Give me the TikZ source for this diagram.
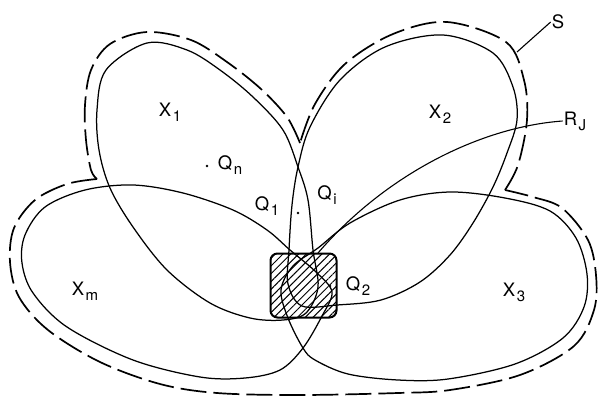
\documentclass[tikz,border=0pt]{standalone}
\usepackage{fontspec}
\setmainfont{TeX Gyre Heros}
\usetikzlibrary{patterns.meta}
\newcommand\lsub[1]{\kern1.5pt\raisebox{-5pt}{\fontsize{15}{15}\selectfont #1}}

\begin{document}
\begin{tikzpicture}[
    x=1pt, y=-1pt,
    petal/.style={
        line width=1.25pt,
        line join=round
    },
    outline/.style={
        line width=1.7pt,
        dash pattern=on 26pt off 7pt
    },
    region/.style={
        draw,
        line width=2pt,
        rounded corners=7pt,
        minimum width=66pt,
        minimum height=64pt,
        inner sep=0pt,
        pattern={Lines[angle=45, distance=5.5pt, line width=1pt]}
    },
    lbl/.style={
        font=\fontsize{18.5}{18.5}\selectfont,
        inner sep=1pt
    },
    leader/.style={
        line width=1.1pt
    },
    dot/.style={
        circle,
        fill,
        inner sep=0pt,
        minimum size=2.8pt
    }
]
\useasboundingbox (0,0) rectangle (598,397);

% petals
\draw[petal] plot[smooth cycle, tension=0.55] coordinates {
    (147,43) (187,50) (220,70) (253,97) (283,130) (298,167) (308,200)
    (313,250) (318,287) (306,313) (283,320) (250,318) (210,303)
    (167,270) (133,227) (110,188) (99,150) (97,110) (106,70)};
\draw[petal] plot[smooth cycle, tension=0.55] coordinates {
    (443,35) (493,53) (513,87) (517,120) (507,153) (493,187) (473,223)
    (450,255) (420,282) (381,300) (337,305) (302,306) (288,284)
    (289,250) (292,205) (298,167) (310,127) (340,80) (385,47)};
\draw[petal] plot[smooth cycle, tension=0.55] coordinates {
    (133,185) (183,193) (233,210) (267,230) (290,250) (316,272)
    (332,292) (322,316) (303,348) (280,370) (245,378) (200,377)
    (133,360) (67,327) (33,293) (22,263) (25,235) (45,207) (85,190)};
\draw[petal] plot[smooth cycle, tension=0.55] coordinates {
    (450,192) (505,198) (550,211) (576,238) (587,274) (584,307)
    (563,338) (515,364) (448,379) (398,380) (348,374) (315,360)
    (303,348) (288,318) (281,290) (293,266) (318,248) (350,223)
    (400,200)};

% S
\draw[outline] plot[smooth, tension=0.55] coordinates {
    (300,143) (287,117) (261,89) (227,62) (191,40) (147,32) (110,44)
    (91,70) (85,105) (86,140) (91,170) (97,179)};
\draw[outline] plot[smooth, tension=0.55] coordinates {
    (97,179) (67,184) (35,200) (14,228) (10,262) (19,297) (48,330)
    (100,362) (160,384) (217,393) (300,395) (398,393) (450,390)
    (520,375) (574,346) (594,310) (596,275) (588,240) (562,208)
    (533,197) (505,190)};
\draw[outline] plot[smooth, tension=0.55] coordinates {
    (505,190) (518,165) (527,120) (524,80) (506,42) (447,22)
    (393,34) (345,64) (315,104) (300,143)};

\node[region] (rjbox) at (303.5,285.5) {};

\node[lbl] (x1) at (170,112) {X\lsub{1}};
\node[lbl] (x2) at (440,114) {X\lsub{2}};
\node[lbl] (xm) at (85,291) {X\lsub{m}};
\node[lbl] (x3) at (514,292) {X\lsub{3}};
\node[lbl] (qn) at (230,165) {Q\lsub{n}};
\node[lbl] (q1) at (267,206) {Q\lsub{1}};
\node[lbl] (qi) at (327,195) {Q\lsub{i}};
\node[lbl] (q2) at (358,286) {Q\lsub{2}};
\node[dot] (qndot) at (207,166) {};
\node[dot] (qidot) at (298,213) {};
\node[dot] (q2dot) at (330,286) {};

\node[lbl] (s) at (558,22) {S};
\coordinate (sfoot) at (517,52);
\draw[leader] (s.west) -- (sfoot);

\node[lbl] (rj) at (575,121) {R\lsub{J}};
\coordinate (rjfoot) at (318,253);
\draw[leader] (rj.west) .. controls (480,127) and (385,175) .. (rjfoot);

\end{tikzpicture}
\end{document}
